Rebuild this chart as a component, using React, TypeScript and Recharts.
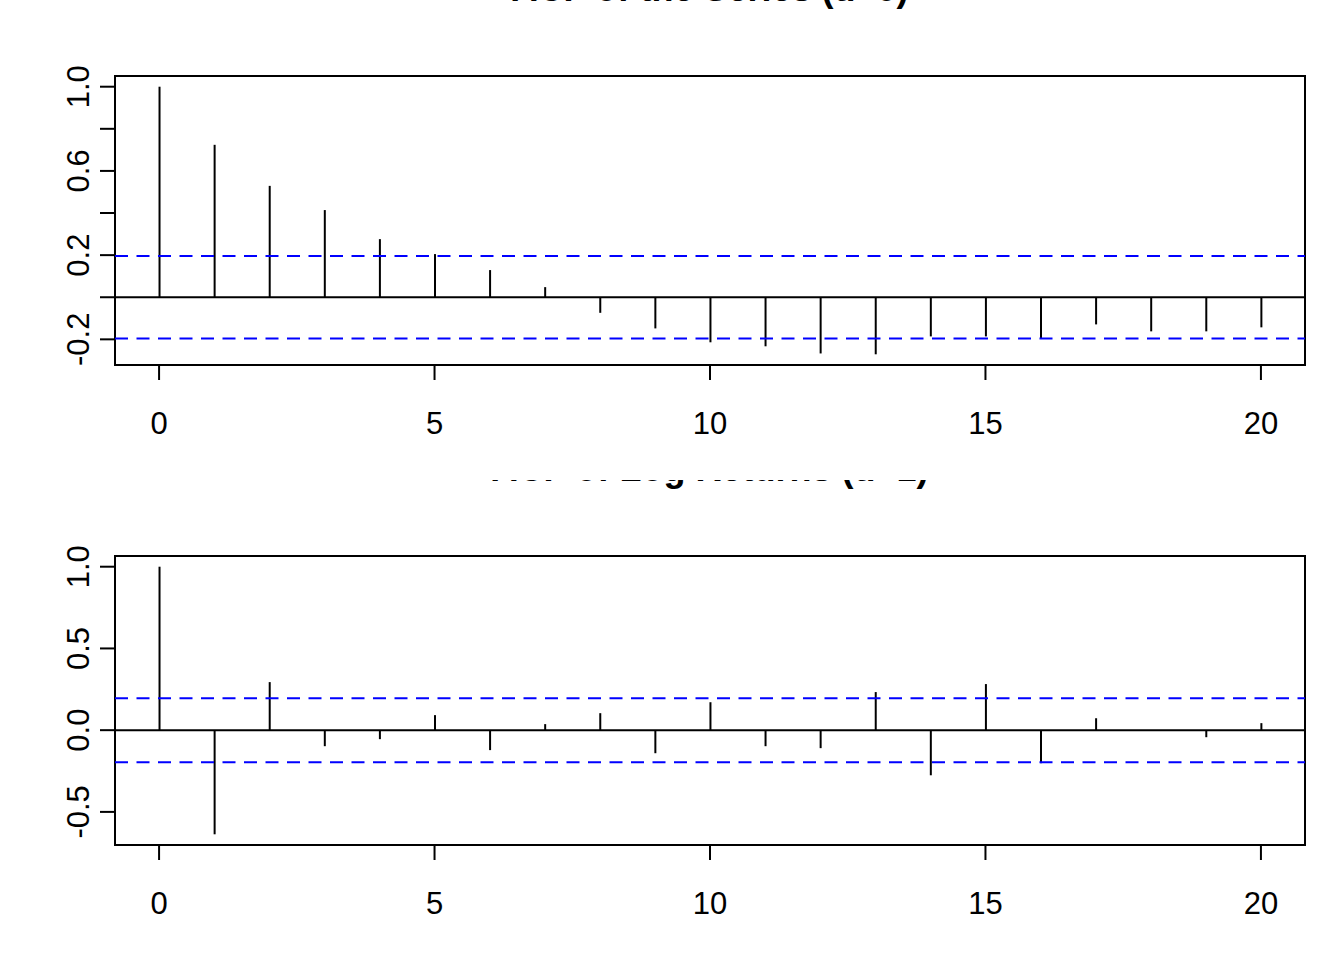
import {
  ComposedChart,
  Bar,
  XAxis,
  YAxis,
  ReferenceLine,
  ReferenceArea,
} from 'recharts';

const lags = [0, 1, 2, 3, 4, 5, 6, 7, 8, 9, 10, 11, 12, 13, 14, 15, 16, 17, 18, 19, 20];

const acfLevels = [
  1.0, 0.724, 0.529, 0.414, 0.276, 0.205, 0.129, 0.048, -0.074, -0.148, -0.214,
  -0.233, -0.267, -0.271, -0.186, -0.186, -0.195, -0.129, -0.162, -0.162, -0.143,
];

const acfDiffs = [
  1.0, -0.637, 0.294, -0.098, -0.055, 0.092, -0.122, 0.037, 0.104, -0.141, 0.171,
  -0.098, -0.11, 0.233, -0.276, 0.282, -0.202, 0.073, -0.005, -0.043, 0.043,
];

const ciBound = 0.196;

const xTicks = [0, 5, 10, 15, 20];
const topYTicks = [-0.2, 0, 0.2, 0.4, 0.6, 0.8, 1.0];
const topYLabels = [-0.2, 0.2, 0.6, 1.0];
const bottomYTicks = [-0.5, 0, 0.5, 1.0];
const bottomYLabels = [-0.5, 0, 0.5, 1.0];

const titles = ['ACF of the Series (d=0)', 'ACF of Log Returns (d=1)'];

const FONT = '"Liberation Sans", Arial, Helvetica, sans-serif';
const W = 1344;
const H = 480;
const X_DOMAIN: [number, number] = [-0.8, 20.8];

// R-style ylim: data range plus the CI lines, padded by 4%
const yRange = (vals: number[]): [number, number] => {
  const lo = Math.min(...vals, -ciBound);
  const hi = Math.max(...vals, ciBound);
  const pad = (hi - lo) * 0.04;
  return [lo - pad, hi + pad];
};

const makeYTick = (labels: number[]) => (props: any) => {
  const { x, y, payload } = props;
  const v = payload.value as number;
  if (!labels.some((l) => Math.abs(l - v) < 1e-9)) return <g />;
  return (
    <text
      transform={`translate(${x}, ${y}) rotate(-90)`}
      textAnchor="middle"
      fontSize={31}
      fontFamily={FONT}
      fill="#000"
    >
      {v.toFixed(1)}
    </text>
  );
};

interface PanelProps {
  values: number[];
  yTicks: number[];
  yLabels: number[];
  title: string;
}

const AcfPanel = ({ values, yTicks, yLabels, title }: PanelProps) => {
  const data = lags.map((lag, i) => ({ lag, acf: values[i] }));
  const [yMin, yMax] = yRange(values);
  return (
    <div style={{ position: 'relative', width: W, height: H, overflow: 'hidden' }}>
      <ComposedChart
        width={W}
        height={H}
        data={data}
        margin={{ top: 76, right: 39, bottom: 55, left: 55 }}
      >
        <XAxis
          dataKey="lag"
          type="number"
          domain={X_DOMAIN}
          ticks={xTicks}
          allowDataOverflow
          height={60}
          axisLine={false}
          tickSize={15}
          tickMargin={32}
          tickLine={{ stroke: '#000', strokeWidth: 2 }}
          tick={{ fontSize: 31, fill: '#000', fontFamily: FONT }}
          interval={0}
        />
        <YAxis
          type="number"
          domain={[yMin, yMax]}
          ticks={yTicks}
          allowDataOverflow
          width={60}
          axisLine={false}
          tickSize={15}
          tickMargin={11}
          tickLine={{ stroke: '#000', strokeWidth: 2 }}
          tick={makeYTick(yLabels)}
          interval={0}
        />
        <ReferenceArea
          x1={X_DOMAIN[0]}
          x2={X_DOMAIN[1]}
          y1={yMin}
          y2={yMax}
          fill="none"
          fillOpacity={0}
          stroke="#000"
          strokeWidth={2}
        />
        <Bar dataKey="acf" barSize={2} fill="#000" isAnimationActive={false} />
        <ReferenceLine y={0} stroke="#000" strokeWidth={2} />
        <ReferenceLine y={ciBound} stroke="#0000ff" strokeWidth={2} strokeDasharray="13 8.5" />
        <ReferenceLine y={-ciBound} stroke="#0000ff" strokeWidth={2} strokeDasharray="13 8.5" />
      </ComposedChart>
      {/* title sits at the very top edge and is mostly clipped, as in the source */}
      <svg
        width={W}
        height={H}
        style={{ position: 'absolute', left: 0, top: 0, pointerEvents: 'none' }}
      >
        <text
          x={710}
          y={1}
          textAnchor="middle"
          fontSize={36}
          fontWeight="bold"
          fontFamily={FONT}
          fill="#000"
        >
          {title}
        </text>
      </svg>
    </div>
  );
};

export default function App() {
  return (
    <div style={{ position: 'absolute', left: 0, top: 0, width: W, height: 960, background: '#fff' }}>
      <AcfPanel values={acfLevels} yTicks={topYTicks} yLabels={topYLabels} title={titles[0]} />
      <AcfPanel values={acfDiffs} yTicks={bottomYTicks} yLabels={bottomYLabels} title={titles[1]} />
    </div>
  );
}
